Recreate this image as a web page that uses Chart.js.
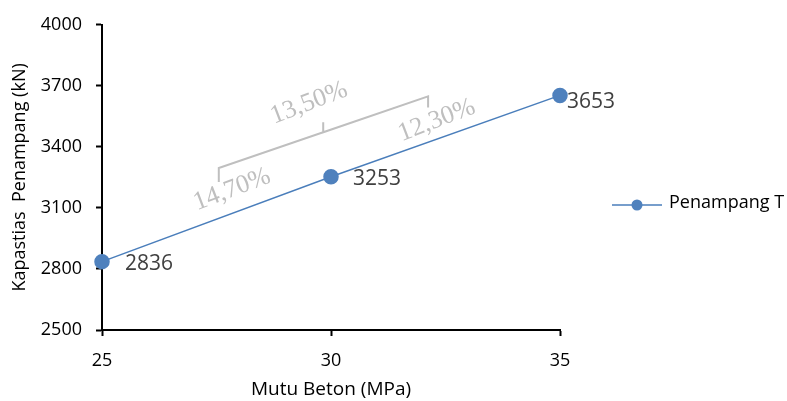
<!DOCTYPE html>
<html>
<head>
<meta charset="utf-8">
<script src="https://cdn.jsdelivr.net/npm/chart.js@4.4.1/dist/chart.umd.min.js"></script>
<style>
  html, body { margin: 0; padding: 0; background: #fff; }
</style>
</head>
<body>
<canvas id="myChart" width="787" height="401"></canvas>
<script>
// Data
const mutuBeton = [25, 30, 35];
const kapasitas = [2836, 3253, 3653];
const xTicks = [25, 30, 35];
const yTicks = [2500, 2800, 3100, 3400, 3700, 4000];
const persenLabels = ['14,70%', '13,50%', '12,30%'];
const seriesName = 'Penampang T';

const FONT = '"Open Sans", "Liberation Sans", sans-serif';
const BLUE = '#4f81bd';

// value labels next to each point (pixel offsets)
const labelOffsets = [[23, 2], [22, 2], [7, 7]];

// percentage notes and the brace, placed in data coordinates
const persenPos = [[27.84, 3190], [29.52, 3615], [32.31, 3530]];
const bracePath = [[27.55, 3228], [27.55, 3296], [29.83, 3472], [29.83, 3521], [29.83, 3472], [32.12, 3648], [32.12, 3594]];

const extras = {
  id: 'extras',
  afterDatasetsDraw(chart) {
    const ctx = chart.ctx;
    const xs = chart.scales.x, ys = chart.scales.y;
    const pts = chart.getDatasetMeta(0).data;

    ctx.save();
    // value labels
    ctx.font = '21px ' + FONT;
    ctx.fillStyle = '#404040';
    ctx.textAlign = 'left';
    ctx.textBaseline = 'middle';
    pts.forEach((p, i) => {
      ctx.fillText(String(kapasitas[i]), p.x + labelOffsets[i][0], p.y + labelOffsets[i][1]);
    });

    // brace
    ctx.strokeStyle = '#bfbfbf';
    ctx.lineWidth = 2;
    ctx.beginPath();
    bracePath.forEach(([vx, vy], i) => {
      const px = xs.getPixelForValue(vx), py = ys.getPixelForValue(vy);
      if (i === 0) ctx.moveTo(px, py); else ctx.lineTo(px, py);
    });
    ctx.stroke();

    // percentage notes
    ctx.font = '26px "Liberation Serif", "DejaVu Serif", serif';
    ctx.fillStyle = '#bfbfbf';
    ctx.textAlign = 'center';
    ctx.textBaseline = 'middle';
    persenLabels.forEach((t, i) => {
      ctx.save();
      ctx.translate(xs.getPixelForValue(persenPos[i][0]), ys.getPixelForValue(persenPos[i][1]));
      ctx.rotate(-21 * Math.PI / 180);
      ctx.fillText(t, 0, 0);
      ctx.restore();
    });

    // legend
    const ly = 205;
    ctx.strokeStyle = '#4a7ebb';
    ctx.lineWidth = 1.5;
    ctx.beginPath();
    ctx.moveTo(612, ly);
    ctx.lineTo(662, ly);
    ctx.stroke();
    ctx.fillStyle = BLUE;
    ctx.beginPath();
    ctx.arc(637, ly, 5.5, 0, Math.PI * 2);
    ctx.fill();
    ctx.font = '18px ' + FONT;
    ctx.fillStyle = '#000';
    ctx.textAlign = 'left';
    ctx.fillText(seriesName, 669, ly - 2);
    ctx.restore();
  }
};

new Chart(document.getElementById('myChart'), {
  type: 'line',
  data: {
    datasets: [{
      label: seriesName,
      data: mutuBeton.map((x, i) => ({ x: x, y: kapasitas[i] })),
      borderColor: '#4a7ebb',
      borderWidth: 1.5,
      backgroundColor: BLUE,
      pointBackgroundColor: BLUE,
      pointBorderColor: BLUE,
      pointRadius: 7,
      pointHoverRadius: 7,
      tension: 0,
      clip: false
    }]
  },
  options: {
    responsive: false,
    animation: false,
    devicePixelRatio: 1,
    layout: { padding: { top: 23, right: 227, left: 0, bottom: 0 } },
    plugins: {
      legend: { display: false },
      tooltip: { enabled: false }
    },
    scales: {
      x: {
        type: 'linear',
        min: 25,
        max: 35,
        afterBuildTicks: axis => { axis.ticks = xTicks.map(v => ({ value: v })); },
        afterFit: s => { s.height = 71; },
        grid: { drawOnChartArea: false, drawTicks: true, tickLength: 6, tickColor: '#000', tickWidth: 2 },
        border: { color: '#000', width: 2 },
        ticks: { color: '#000', padding: 14, maxRotation: 0, callback: v => String(v), font: { family: FONT, size: 18 } },
        title: { display: true, text: 'Mutu Beton (MPa)', color: '#000', padding: 0, font: { family: FONT, size: 19 } }
      },
      y: {
        min: 2500,
        max: 4000,
        afterBuildTicks: axis => { axis.ticks = yTicks.map(v => ({ value: v })); },
        afterFit: s => { s.width = 102; },
        grid: { drawOnChartArea: false, drawTicks: true, tickLength: 6, tickColor: '#000', tickWidth: 2 },
        border: { color: '#000', width: 2 },
        ticks: { color: '#000', padding: 14, callback: v => String(v), font: { family: FONT, size: 18 } },
        title: { display: true, text: 'Kapastias  Penampang (kN)', color: '#000', padding: { top: 9, bottom: 0 }, font: { family: FONT, size: 18 } }
      }
    }
  },
  plugins: [extras]
});
</script>
</body>
</html>
